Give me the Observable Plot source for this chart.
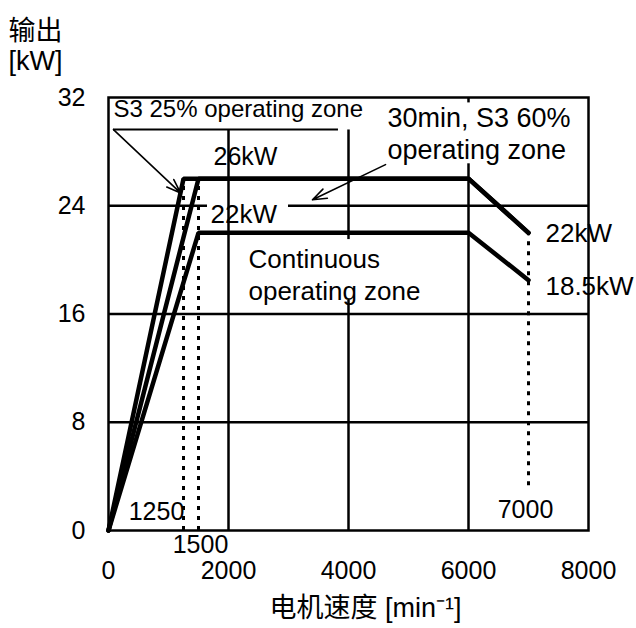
<!DOCTYPE html>
<html>
<head>
<meta charset="utf-8">
<script src="https://cdn.jsdelivr.net/npm/d3@7"></script>
<script src="https://cdn.jsdelivr.net/npm/@observablehq/plot@0.6"></script>
<style>
  html, body { margin: 0; padding: 0; background: #fff; }
</style>
</head>
<body>
<div id="chart"></div>
<script>
// ---- data ----
const xTicks = [0, 2000, 4000, 6000, 8000];
const yTicks = [0, 8, 16, 24, 32];
const xGrid = [2000, 4000, 6000];
const yGrid = [8, 16, 24];

const speedS3_25 = [0, 1250, 6000, 7000];
const powerS3_25 = [0, 26, 26, 22];
const speedS3_60 = [0, 1500, 6000, 7000];
const powerS3_60 = [0, 26, 26, 22];
const speedCont = [0, 1500, 6000, 7000];
const powerCont = [0, 22, 22, 18.5];

const markerSpeeds = [1250, 1500, 7000];
const markerTop = [26, 26, 22];
const markerBottom = [0, 0, 3.3];

const seriesNames = ["S3 25%", "S3 60%", "Continuous"];

// annotation texts and anchor points (data units)
const leftLabelTexts = ["22kW", "Continuous\noperating zone", "22kW", "18.5kW"];
const leftLabelX = [1700, 2333, 7283, 7283];
const leftLabelY = [23.5, 19.0, 22.1, 18.2];
const midLabelTexts = ["26kW", "1250", "1500", "7000"];
const midLabelX = [2283, 800, 1533, 6950];
const midLabelY = [27.6, 1.35, -1.1, 1.5];

// ---- build tables ----
const lines = [
  ...speedS3_25.map((s, i) => ({series: seriesNames[0], speed: s, power: powerS3_25[i]})),
  ...speedS3_60.map((s, i) => ({series: seriesNames[1], speed: s, power: powerS3_60[i]})),
  ...speedCont.map((s, i) => ({series: seriesNames[2], speed: s, power: powerCont[i]}))
];
const markers = markerSpeeds.map((s, i) => ({speed: s, top: markerTop[i], bottom: markerBottom[i]}));
const leftLabels = leftLabelTexts.map((t, i) => ({text: t, x: leftLabelX[i], y: leftLabelY[i]}));
const midLabels = midLabelTexts.map((t, i) => ({text: t, x: midLabelX[i], y: midLabelY[i]}));

const font = "'Liberation Sans', Arial, 'Noto Sans CJK SC', sans-serif";

// white backgrounds behind annotation boxes
const boxes = [
  {x1: 0, x2: 4400, y1: 29.6, y2: 32},
  {x1: 4550, x2: 7900, y1: 27.1, y2: 31.6},
  {x1: 2200, x2: 5200, y1: 17.0, y2: 21.5},
  {x1: 7250, x2: 8600, y1: 21.0, y2: 23.1},
  {x1: 7250, x2: 8700, y1: 17.1, y2: 19.2}
];
const gapBox = [{x1: 1650, x2: 3000, y1: 23.8, y2: 24.2}];

const plot = Plot.plot({
  width: 636,
  height: 628,
  marginLeft: 108,
  marginRight: 48,
  marginTop: 97,
  marginBottom: 98,
  style: {fontFamily: font, fontSize: "25px", color: "#000", background: "#fff", overflow: "visible"},
  x: {domain: [0, 8000]},
  y: {domain: [0, 32]},
  marks: [
    Plot.ruleY(yGrid, {stroke: "#000", strokeWidth: 2.5}),
    Plot.rect(gapBox, {x1: "x1", x2: "x2", y1: "y1", y2: "y2", fill: "#fff"}),
    Plot.ruleX(xGrid, {stroke: "#000", strokeWidth: 2.5}),
    Plot.rect(boxes, {x1: "x1", x2: "x2", y1: "y1", y2: "y2", fill: "#fff"}),
    Plot.frame({stroke: "#000", strokeWidth: 2.5}),
    Plot.ruleX(markers, {x: "speed", y1: "bottom", y2: "top", stroke: "#000", strokeWidth: 3, strokeDasharray: "4,6"}),
    Plot.line(lines, {x: "speed", y: "power", z: "series", stroke: "#000", strokeWidth: 4.5, strokeLinejoin: "miter"}),
    // S3 25% leader
    Plot.ruleY([29.63], {x1: 83, x2: 3833, stroke: "#000", strokeWidth: 2}),
    Plot.arrow([{x1: 83, y1: 29.63, x2: 1200, y2: 24.95}], {x1: "x1", y1: "y1", x2: "x2", y2: "y2", stroke: "#000", strokeWidth: 1.6, headLength: 14, headAngle: 40}),
    Plot.arrow([{x1: 4617, y1: 27.04, x2: 3400, y2: 24.44}], {x1: "x1", y1: "y1", x2: "x2", y2: "y2", stroke: "#000", strokeWidth: 1.6, headLength: 14, headAngle: 40}),
    Plot.text(["S3 25% operating zone"], {x: 83, y: 31.1, textAnchor: "start", fontSize: 24, fill: "#000"}),
    Plot.text(["30min, S3 60%\noperating zone"], {x: 4650, y: 29.4, textAnchor: "start", fontSize: 27, lineHeight: 1.18, fill: "#000"}),
    Plot.text(leftLabels, {x: "x", y: "y", text: "text", textAnchor: "start", fontSize: 26, lineHeight: 1.25, fill: "#000"}),
    Plot.text(midLabels, {x: "x", y: "y", text: "text", textAnchor: "middle", fontSize: 25, fill: "#000"}),
    // axes
    Plot.axisX({ticks: xTicks, tickFormat: d => String(d), tickSize: 0, tickPadding: 31, label: null, fontSize: 25}),
    Plot.axisY({ticks: yTicks, tickFormat: d => String(d), tickSize: 0, tickPadding: 23, label: null, fontSize: 25}),
    // axis titles
    Plot.text(["输出\n[kW]"], {frameAnchor: "top-left", dx: -100, dy: -79, textAnchor: "start", lineAnchor: "top", fontSize: 27, lineHeight: 1.12, fill: "#000"}),
    Plot.text(["电机速度 [min⁻¹]"], {frameAnchor: "bottom", dx: 17, dy: 78, textAnchor: "middle", lineAnchor: "middle", fontSize: 27, fill: "#000"})
  ]
});
document.getElementById("chart").appendChild(plot);
</script>
</body>
</html>
